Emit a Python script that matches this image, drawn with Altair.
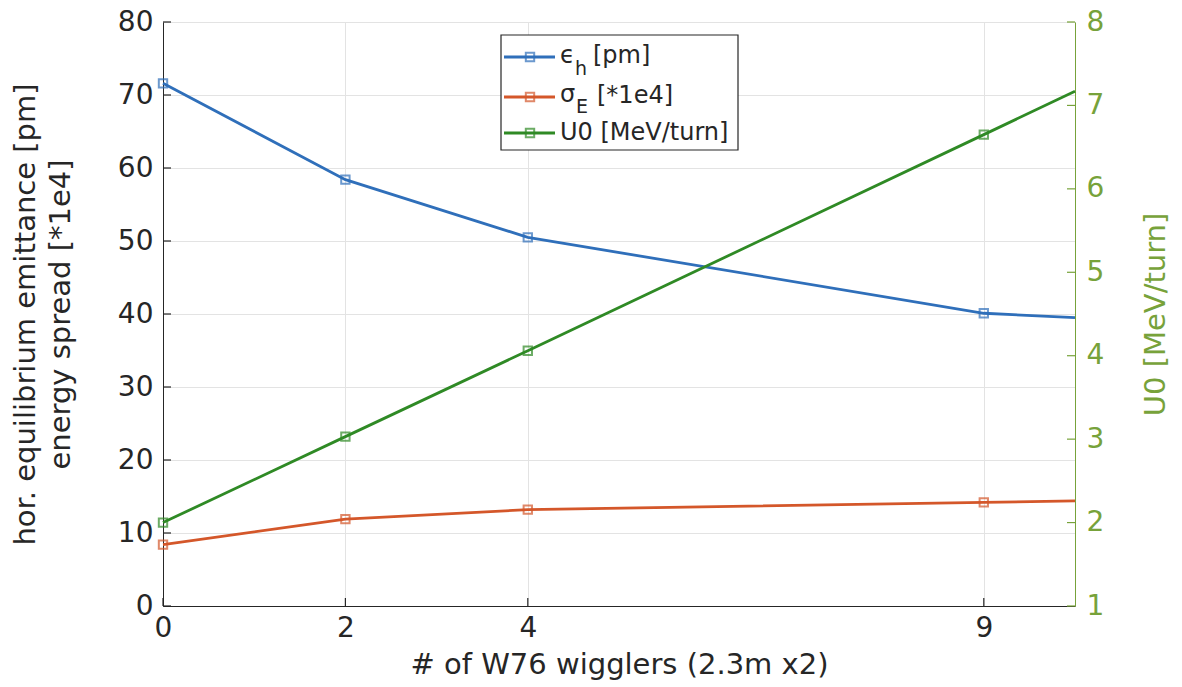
import altair as alt
import pandas as pd

# ---- data ----
n_wigglers = [0, 2, 4, 9, 10]
emittance_pm = [71.6, 58.4, 50.5, 40.1, 39.5]
energy_spread_1e4 = [8.4, 11.9, 13.2, 14.2, 14.4]
u0_mev_turn = [2.0, 3.03, 4.06, 6.65, 7.17]
marker_x = [0, 2, 4, 9]
x_ticks = [0, 2, 4, 9]
left_ticks = [0, 10, 20, 30, 40, 50, 60, 70, 80]
right_ticks = [1, 2, 3, 4, 5, 6, 7, 8]

BLUE = "#2f6fba"
ORANGE = "#d4572a"
GREEN = "#2f8a25"
AXGREEN = "#77a23a"
DARK = "#262626"
FONT = "DejaVu Sans"

left_df = pd.DataFrame({
    "x": n_wigglers * 2,
    "value": emittance_pm + energy_spread_1e4,
    "series": ["eps"] * len(n_wigglers) + ["sig"] * len(n_wigglers),
})
left_df["marker"] = left_df["x"].isin(marker_x)
right_df = pd.DataFrame({"x": n_wigglers, "u0": u0_mev_turn})
right_df["marker"] = right_df["x"].isin(marker_x)

xenc = alt.X(
    "x:Q",
    scale=alt.Scale(domain=[0, 10], nice=False, zero=False),
    axis=alt.Axis(
        values=x_ticks, title="# of W76 wigglers (2.3m x2)", grid=True,
        gridColor="#e3e3e3", domainColor=DARK, labelColor=DARK, titleColor=DARK,
        labelFontSize=28, titleFontSize=29, ticks=False, labelPadding=8,
        labelFlush=False, titlePadding=8, titleFontWeight="normal", format="d",
    ),
)

color = alt.Color(
    "series:N",
    scale=alt.Scale(domain=["eps", "sig"], range=[BLUE, ORANGE]),
    legend=None,
)

yleft = alt.Y(
    "value:Q",
    scale=alt.Scale(domain=[0, 80], nice=False),
    axis=alt.Axis(
        values=left_ticks, orient="left", grid=True, gridColor="#e3e3e3",
        title=["hor. equilibrium emittance [pm]", "energy spread [*1e4]"],
        titleLineHeight=35, domainColor=DARK, labelColor=DARK, titleColor=DARK,
        labelFontSize=28, titleFontSize=29, ticks=False, labelPadding=10,
        titlePadding=42, titleFontWeight="normal",
    ),
)

base_left = alt.Chart(left_df)
left_lines = base_left.mark_line(strokeWidth=2.8).encode(x=xenc, y=yleft, color=color, detail="series:N")
left_pts = base_left.transform_filter("datum.marker").mark_point(
    shape="square", filled=False, size=70, strokeWidth=2
).encode(x=xenc, y=yleft, color=color)

# inward tick marks (MATLAB style)
xtick_rules = alt.Chart(pd.DataFrame({"x": x_ticks})).mark_rule(color=DARK, strokeWidth=1.2).encode(
    x=xenc, y=alt.value(584), y2=alt.value(576)
)
ltick_rules = alt.Chart(pd.DataFrame({"value": left_ticks})).mark_rule(color=DARK, strokeWidth=1.2).encode(
    y=yleft, x=alt.value(0), x2=alt.value(8)
)
left_layer = alt.layer(left_lines, left_pts, xtick_rules, ltick_rules)

yright = alt.Y(
    "u0:Q",
    scale=alt.Scale(domain=[1, 8], nice=False, zero=False),
    axis=alt.Axis(
        values=right_ticks, orient="right", grid=False, title="U0 [MeV/turn]",
        domainColor=AXGREEN, labelColor=AXGREEN, titleColor=AXGREEN,
        labelFontSize=28, titleFontSize=29, ticks=False, labelPadding=11,
        titleAngle=270, titleBaseline="top", titlePadding=38, titleFontWeight="normal",
    ),
)
base_right = alt.Chart(right_df)
right_lines = base_right.mark_line(strokeWidth=2.8, color=GREEN).encode(x=xenc, y=yright)
right_pts = base_right.transform_filter("datum.marker").mark_point(
    shape="square", filled=False, size=70, strokeWidth=2, color=GREEN
).encode(x=xenc, y=yright)
rtick_rules = alt.Chart(pd.DataFrame({"u0": right_ticks})).mark_rule(color=AXGREEN, strokeWidth=1.2).encode(
    y=yright, x=alt.value(904), x2=alt.value(912)
)
right_layer = alt.layer(right_lines, right_pts, rtick_rules)

# ---- hand-built legend (to allow TeX-like subscripts) ----
dummy = pd.DataFrame({"a": [0]})
legend_layers = [
    alt.Chart(dummy).mark_rect(fill="white", stroke=DARK, strokeWidth=1.2).encode(
        x=alt.value(338), x2=alt.value(575), y=alt.value(13), y2=alt.value(128)
    )
]
rows = [(35, BLUE), (75, ORANGE), (111, GREEN)]
for ry, col in rows:
    legend_layers.append(
        alt.Chart(dummy).mark_rule(color=col, strokeWidth=2.8).encode(
            x=alt.value(341), x2=alt.value(392), y=alt.value(ry)
        )
    )
    legend_layers.append(
        alt.Chart(dummy).mark_point(shape="square", filled=False, size=70, strokeWidth=2, color=col).encode(
            x=alt.value(367), y=alt.value(ry)
        )
    )

def txt(s, x, y, size=24):
    return alt.Chart(dummy).mark_text(
        text=s, align="left", baseline="middle", font=FONT, fontSize=size, color=DARK
    ).encode(x=alt.value(x), y=alt.value(y))

legend_layers += [
    txt("ϵ", 397, 34), txt("h", 412, 47, 19), txt("[pm]", 430, 34),
    txt("σ", 397, 73), txt("E", 413, 85, 19), txt("[*1e4]", 434, 74),
    txt("U0 [MeV/turn]", 397, 111),
]

chart = alt.layer(left_layer, right_layer, *legend_layers).resolve_scale(
    y="independent", color="independent"
).properties(
    width=912, height=584,
    autosize=alt.AutoSizeParams(type="none"),
    padding={"left": 163, "top": 22, "right": 107, "bottom": 81},
).configure_view(stroke=DARK, strokeWidth=1).configure(font=FONT, background="white")

chart.save("out.html", embed_options={"renderer": "svg", "actions": False})
